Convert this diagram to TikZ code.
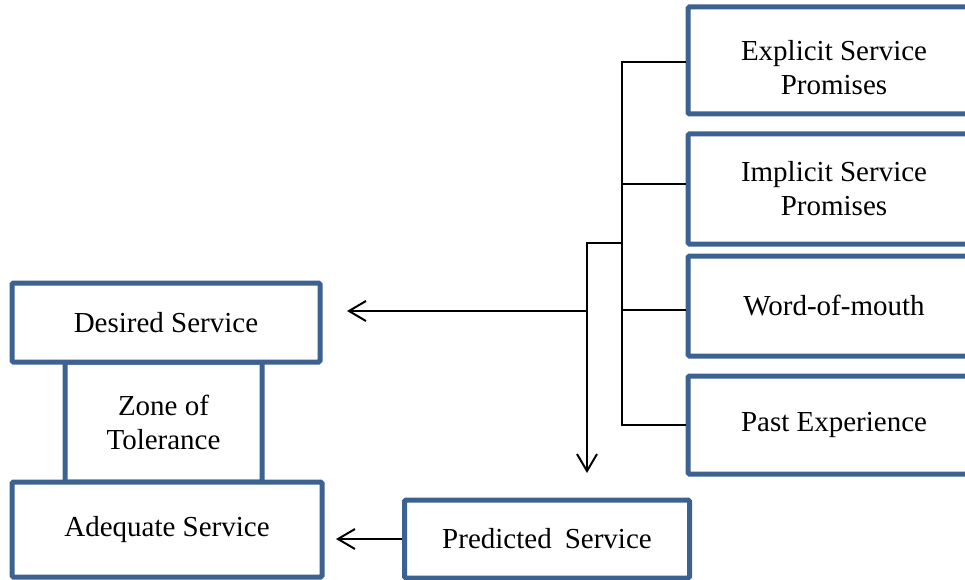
\documentclass[tikz,border=0pt]{standalone}
\usepackage{fontspec}
\setmainfont{Liberation Serif}
\usetikzlibrary{arrows.meta}
\definecolor{boxblue}{RGB}{60,98,146}
\tikzset{
  sbox/.style={draw=boxblue, line width=5pt, fill=white, rounded corners=1.5pt,
    inner sep=0pt, align=center, font=\fontsize{29}{34}\selectfont},
  conn/.style={draw=black, line width=2pt},
  arr/.style={conn, -{Straight Barb[length=17pt, width=20pt, line width=2pt]}}
}
\begin{document}
\begin{tikzpicture}[x=1pt, y=-1pt]
\path[use as bounding box, clip] (0,0) rectangle (965,580);
% right column boxes
\node[sbox, minimum width=292pt, minimum height=107pt,
  label={[font=\fontsize{29}{34}\selectfont, align=center, yshift=-7pt]center:Explicit Service\\Promises}] (ex) at (834,60.5) {};
\node[sbox, minimum width=292pt, minimum height=110pt] (im) at (834,189) {Implicit Service\\Promises};
\node[sbox, minimum width=292pt, minimum height=100pt] (wm) at (834,306) {Word-of-mouth};
\node[sbox, minimum width=292pt, minimum height=98pt] (pe) at (834,425) {Past Experience};
% left stack
\node[sbox, minimum width=197pt, minimum height=120pt] (zt) at (163.5,422) {Zone of\\Tolerance};
\node[sbox, minimum width=308pt, minimum height=79pt] (ds) at (166,322.5) {Desired Service};
\node[sbox, minimum width=310pt, minimum height=95pt] (ad) at (167,529.5) {Adequate Service};
\node[sbox, minimum width=285pt, minimum height=78pt] (pr) at (547,539) {Predicted\hspace{0.45em}Service};
% bus
\coordinate (bt) at (622,62);
\coordinate (j1) at (622,243);
\coordinate (j2) at (587,243);
\coordinate (hs) at (587,311);
\coordinate (dtip) at (587,473);
\coordinate (lt) at (347,311);
\coordinate (at) at (336,539);
\draw[conn] (ex.west |- bt) -- (bt) -- (bt |- pe.west) -- (pe.west);
\draw[conn] (im.west) ++(0,-5) -- (bt |- 0,184);
\draw[conn] (wm.west |- 0,310) -- (bt |- 0,310);
\draw[arr] (j1) -- (j2) -- (dtip);
\draw[arr] (hs) -- (lt);
\draw[arr] (pr.west) -- (at);
\end{tikzpicture}
\end{document}
